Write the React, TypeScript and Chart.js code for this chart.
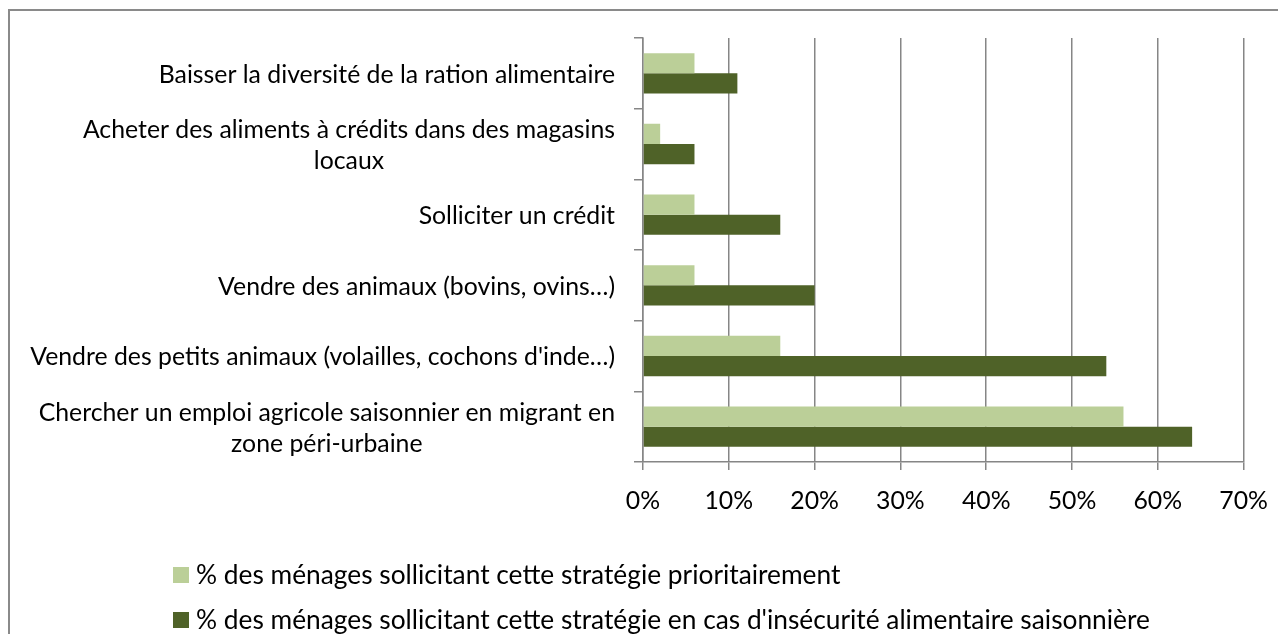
import React, { useEffect, useRef } from "react";
import { Chart, registerables } from "chart.js";

Chart.register(...registerables);

const categories: string[][] = [
  ["Baisser la diversité de la ration alimentaire"],
  ["Acheter des aliments à crédits dans des magasins", "locaux"],
  ["Solliciter un crédit"],
  ["Vendre des animaux (bovins, ovins…)"],
  ["Vendre des petits animaux (volailles, cochons d'inde…)"],
  ["Chercher un emploi agricole saisonnier en migrant en", "zone péri-urbaine"],
];

const seriesNames = [
  "% des ménages sollicitant cette stratégie prioritairement",
  "% des ménages sollicitant cette stratégie en cas d'insécurité alimentaire saisonnière",
];

const prioritaire = [6, 2, 6, 6, 16, 56];
const saisonniere = [11, 6, 16, 20, 54, 64];

const xTicks = [0, 10, 20, 30, 40, 50, 60, 70];

const LIGHT = "#BBCF98";
const DARK = "#4F6228";
const GRID = "#868686";
const FONT_FAMILY = "Lato";
const FS = 24.8;
const LEGEND_FS = 26.3;
const LINE_H = 31;

const labelsPlugin = {
  id: "customLabels",
  afterDraw(chart: any) {
    const ctx = chart.ctx as CanvasRenderingContext2D;
    const yScale = chart.scales.y;
    const area = chart.chartArea;
    ctx.save();
    ctx.font = `${FS}px ${FONT_FAMILY}`;
    ctx.fillStyle = "#000";
    ctx.textBaseline = "middle";
    ctx.textAlign = "center";
    const labelRight = area.left - 28;
    (chart.data.labels as any[]).forEach((lab, i) => {
      const lines: string[] = Array.isArray(lab) ? lab : [lab];
      const cy = yScale.getPixelForTick(i);
      const maxW = Math.max(...lines.map((l) => ctx.measureText(l).width));
      const cx = labelRight - maxW / 2;
      lines.forEach((l, j) => {
        ctx.fillText(l, cx, cy + (j - (lines.length - 1) / 2) * LINE_H + 1.5);
      });
    });

    // legend
    ctx.font = `${LEGEND_FS}px ${FONT_FAMILY}`;
    const lx = 163;
    const rows = [564, 609];
    ctx.textAlign = "left";
    chart.data.datasets.forEach((ds: any, i: number) => {
      ctx.fillStyle = ds.backgroundColor;
      ctx.fillRect(lx, rows[i] - 8, 16, 16);
      ctx.fillStyle = "#000";
      ctx.fillText(ds.label, lx + 23, rows[i] + 1);
    });
    ctx.restore();
  },
};

export default function App() {
  const ref = useRef<HTMLCanvasElement | null>(null);

  useEffect(() => {
    if (!ref.current) return;
    const chart = new Chart(ref.current, {
      type: "bar",
      data: {
        labels: categories,
        datasets: [
          {
            label: seriesNames[0],
            data: prioritaire,
            backgroundColor: LIGHT,
            barPercentage: 1,
            categoryPercentage: 0.57,
          },
          {
            label: seriesNames[1],
            data: saisonniere,
            backgroundColor: DARK,
            barPercentage: 1,
            categoryPercentage: 0.57,
          },
        ],
      },
      options: {
        indexAxis: "y",
        animation: false,
        responsive: false,
        maintainAspectRatio: false,
        layout: { padding: { top: 27, right: 42.4, bottom: 112, left: 0 } },
        plugins: {
          legend: { display: false },
          tooltip: { enabled: false },
        },
        scales: {
          x: {
            min: xTicks[0],
            max: xTicks[xTicks.length - 1],
            afterBuildTicks(scale: any) {
              scale.ticks = xTicks.map((v) => ({ value: v }));
            },
            afterFit(scale: any) {
              scale.height = 60;
            },
            grid: {
              color: GRID,
              lineWidth: 1.5,
              drawTicks: true,
              tickLength: 8,
              tickColor: GRID,
            },
            border: { display: true, color: GRID, width: 1.5 },
            ticks: {
              padding: 16,
              color: "#000",
              font: { family: FONT_FAMILY, size: FS },
              callback: (v: any) => `${v}%`,
            },
          },
          y: {
            afterFit(scale: any) {
              scale.width = 633;
            },
            grid: {
              offset: true,
              drawOnChartArea: false,
              drawTicks: true,
              tickLength: 9,
              lineWidth: 1.5,
              color: GRID,
              tickColor: GRID,
            },
            border: { display: true, color: GRID, width: 1.5 },
            ticks: { display: false },
          },
        },
      },
      plugins: [labelsPlugin],
    });
    return () => chart.destroy();
  }, []);

  return (
    <div
      style={{
        marginTop: 1,
        borderTop: "2px solid #8a8a8a",
        borderLeft: "2px solid #8a8a8a",
        width: 1276,
        height: 623,
        overflow: "hidden",
      }}
    >
      <canvas ref={ref} width={1276} height={623} style={{ display: "block" }} />
    </div>
  );
}
